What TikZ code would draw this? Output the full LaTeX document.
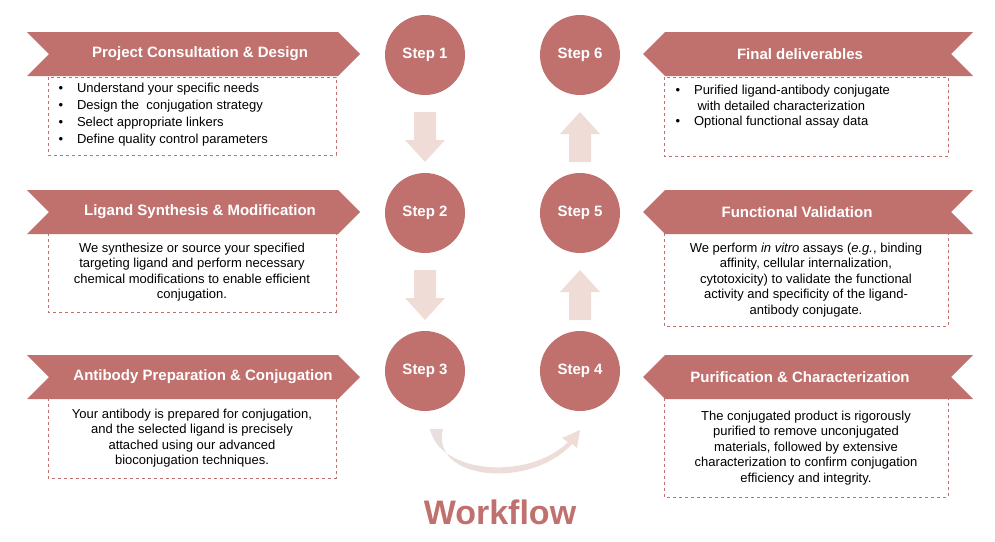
\documentclass[tikz,border=0pt]{standalone}
\usepackage{fontspec}
\setmainfont{Liberation Sans}
\usetikzlibrary{arrows.meta}
\definecolor{main}{HTML}{C0716E}
\definecolor{light}{HTML}{F0DCD6}
\begin{document}
\begin{tikzpicture}[x=1pt,y=-1pt,
  circ/.style={circle,fill=main,minimum size=80pt,inner sep=0,text=white,font=\fontsize{15}{18}\selectfont\bfseries},
  ttl/.style={text=white,font=\fontsize{15}{18}\selectfont\bfseries},
  box/.style={draw=main,dashed,line width=0.8pt},
  body/.style={font=\fontsize{13}{15.5}\selectfont,align=center},
  arr/.style={fill=light}]
\useasboundingbox (0,0) rectangle (995,541);
% left banners
\foreach \y/\n in {32/a,190/b,355/c}{
  \fill[main] (27,\y) -- (338,\y) -- (360,\y+22) -- (338,\y+44) -- (27,\y+44) -- (49,\y+22) -- cycle;
}
\foreach \y in {32,190,355}{
  \fill[main] (643,\y+22) -- (665,\y) -- (973,\y) -- (951,\y+22) -- (973,\y+44) -- (665,\y+44) -- cycle;
}
\node[ttl] (t1) at (200,54) {Project Consultation \& Design};
\node[ttl] (t2) at (200,212) {Ligand Synthesis \& Modification};
\node[ttl] (t3) at (203,377) {Antibody Preparation \& Conjugation};
\node[ttl] (t6) at (800,54) {Final deliverables};
\node[ttl] (t5) at (797,212) {Functional Validation};
\node[ttl] (t4) at (800,377) {Purification \& Characterization};
% boxes
\draw[box] (48,77) rectangle (336,155);
\draw[box] (48,233) rectangle (336,312);
\draw[box] (48,398) rectangle (336,478);
\draw[box] (664,77) rectangle (948,156);
\draw[box] (664,233) rectangle (948,326);
\draw[box] (664,398) rectangle (948,497);
\node[font=\fontsize{13}{17}\selectfont,align=left,anchor=north west] (b1) at (55,80) {%
\textbullet\hspace{14pt}Understand your specific needs\\
\textbullet\hspace{14pt}Design the\ \ conjugation strategy\\
\textbullet\hspace{14pt}Select appropriate linkers\\
\textbullet\hspace{14pt}Define quality control parameters};
\node[body] (b2) at (192,272) {We synthesize or source your specified\\targeting ligand and perform necessary\\chemical modifications to enable efficient\\conjugation.};
\node[body] (b3) at (192,438) {Your antibody is prepared for conjugation,\\and the selected ligand is precisely\\attached using our advanced\\bioconjugation techniques.};
\node[font=\fontsize{13}{15.5}\selectfont,align=left,anchor=north west] (b6) at (672,82) {%
\textbullet\hspace{14pt}Purified ligand-antibody conjugate\\
\hspace{22pt}with detailed characterization\\
\textbullet\hspace{14pt}Optional functional assay data};
\node[body] (b5) at (806,280) {We perform \textit{in vitro} assays (\textit{e.g.}, binding\\affinity, cellular internalization,\\cytotoxicity) to validate the functional\\activity and specificity of the ligand-\\antibody conjugate.};
\node[body] (b4) at (806,448) {The conjugated product is rigorously\\purified to remove unconjugated\\materials, followed by extensive\\characterization to confirm conjugation\\efficiency and integrity.};
% circles
\node[circ] (s1) at (425,55) {Step 1};
\node[circ] (s2) at (425,213) {Step 2};
\node[circ] (s3) at (425,371) {Step 3};
\node[circ] (s4) at (580,371) {Step 4};
\node[circ] (s5) at (580,213) {Step 5};
\node[circ] (s6) at (580,55) {Step 6};
% down arrows
\foreach \yt in {112,270}{
  \fill[light] (414,\yt) -- (436,\yt) -- (436,\yt+28) -- (445,\yt+28) -- (425,\yt+50) -- (405,\yt+28) -- (414,\yt+28) -- cycle;
}
\foreach \yt in {112,270}{
  \fill[light] (569,\yt+50) -- (591,\yt+50) -- (591,\yt+22) -- (600,\yt+22) -- (580,\yt) -- (560,\yt+22) -- (569,\yt+22) -- cycle;
}
% curved arrow
\shade[left color=light!80!gray!60,right color=light]
  (430,429) .. controls (440,475) and (530,480) .. (568,442) -- (562,438) -- (580,430) -- (577,448) -- (572,444)
  .. controls (530,490) and (430,480) .. (443,429) -- cycle;
\node[text=main,font=\fontsize{34}{40}\selectfont\bfseries] (wf) at (500,512) {Workflow};
\end{tikzpicture}
\end{document}
